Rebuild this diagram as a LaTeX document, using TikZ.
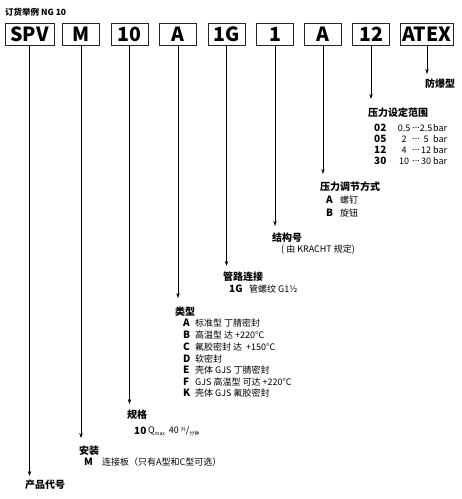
\documentclass[tikz,border=0pt]{standalone}
\usepackage{fontspec}
\setmainfont{Noto Sans CJK SC}
\usetikzlibrary{arrows.meta}

\begin{document}
\begin{tikzpicture}[x=1pt,y=-1pt,font=\fontsize{9}{10}\selectfont,
  codebox/.style={draw=black!85,line width=0.9pt,minimum height=22pt,minimum width=37pt,inner sep=0pt,font=\fontsize{19.5}{20}\selectfont\bfseries},
  head/.style={anchor=west,inner sep=0pt,font=\fontsize{10}{12}\selectfont\bfseries},
  item/.style={anchor=west,inner sep=0pt},
  key/.style={anchor=west,inner sep=0pt,font=\fontsize{10}{11}\selectfont\bfseries},
  pick/.style={-{Stealth[length=5pt,width=3.4pt]},line width=0.6pt}]
\useasboundingbox (0,0) rectangle (462,499);
\node[anchor=west,inner sep=0pt,font=\fontsize{8.5}{10}\selectfont\bfseries] (title) at (5,12) {订货举例 NG 10};
% code boxes
\node[codebox,minimum width=49pt] (spv) at (29.5,34) {SPV};
\node[codebox] (mount) at (81,34) {M};
\node[codebox] (size) at (129.5,34) {10};
\node[codebox] (type) at (178,34) {A};
\node[codebox] (pipe) at (226.5,34) {1G};
\node[codebox] (build) at (275,34) {1};
\node[codebox] (adj) at (323,34) {A};
\node[codebox] (range) at (371,34) {12};
\node[codebox,minimum width=53pt] (atex) at (427,34) {ATEX};
% headings
\node[head] (hatex) at (425,84) {防爆型};
\node[head] (hrange) at (368,113) {压力设定范围};
\node[head] (hadj) at (320,187) {压力调节方式};
\node[head] (hbuild) at (272,238) {结构号};
\node[head] (hpipe) at (223,277) {管路连接};
\node[head] (htype) at (175,312) {类型};
\node[head] (hsize) at (127,415) {规格};
\node[head] (hmount) at (79,451) {安装};
\node[head] (hspv) at (25,485) {产品代号};
% arrows
\foreach \b/\h/\g in {spv/hspv/4,mount/hmount/8,size/hsize/6,type/htype/9,pipe/hpipe/6,build/hbuild/7,adj/hadj/8,range/hrange/9,atex/hatex/5}
  \draw[pick,shorten >=\g pt] (\b.south) -- (\b.south |- \h.north);
% pressure range
\foreach \y/\c/\lo/\hi in {128/02/0.5/2.5,139/05/2/5,150/12/4/12,161/30/10/30}{
  \node[key] (r\c) at (374,\y) {\c};
  \node[inner sep=0pt] at (404,\y) {\lo};
  \node[inner sep=0pt] at (416,\y) {...};
  \node[inner sep=0pt] at (426,\y) {\hi};
  \node[item] at (433,\y) {bar};
}
% adjustment
\node[key] (adja) at (326,200) {A}; \node[item] at (340,200) {螺钉};
\node[key] (adjb) at (326,213) {B}; \node[item] at (340,213) {旋钮};
\node[item] (note) at (281,250) {( 由 KRACHT 规定)};
% pipe
\node[key] (g1) at (229,289) {1G}; \node[item] at (249,289) {管螺纹 G1½};
% type list
\foreach \y/\c/\t in {323/A/标准型 丁腈密封,335/B/高温型 达 +220°C,347/C/氟胶密封 达 \ +150°C,359/D/软密封,370/E/壳体 GJS 丁腈密封,382/F/GJS 高温型 可达 +220°C,393/K/壳体 GJS 氟胶密封}{
  \node[key] (t\c) at (183,\y) {\c};
  \node[item] at (195,\y) {\t};
}
% size
\node[key] (s10) at (134,431) {10};
\node[item] at (148,431) {Q\raisebox{-1.5pt}{\fontsize{5}{5}\selectfont max}\ \ 40 \raisebox{2pt}{\fontsize{5}{5}\selectfont 升}/\raisebox{-1.5pt}{\fontsize{5}{5}\selectfont 分钟}};
% mounting
\node[key] (mm) at (84,462) {M}; \node[item] at (102,462) {连接板（只有A型和C型可选）};
\end{tikzpicture}
\end{document}
